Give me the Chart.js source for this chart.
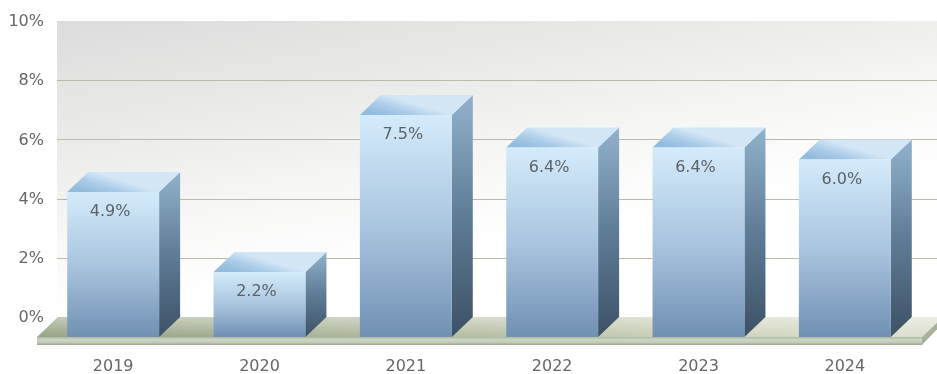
<!DOCTYPE html>
<html>
<head>
<meta charset="utf-8">
<title>Annual growth</title>
<script src="https://cdn.jsdelivr.net/npm/chart.js@4"></script>
<style>
    html, body { margin: 0; padding: 0; background: #fff; }
    canvas { display: block; }
</style>
</head>
<body>
<canvas id="grafico" width="937" height="374"></canvas>
<script>
const years = ['2019', '2020', '2021', '2022', '2023', '2024'];
const growth = [4.9, 2.2, 7.5, 6.4, 6.4, 6.0];
const yTicks = [0, 2, 4, 6, 8, 10];

// how far the back plane sits from the front plane, in px
const depthX = 21;
const depthY = 20;
const unitPx = 29.6;
const depthUnits = depthY / unitPx;
const fontName = '"DejaVu Sans"';

function linear(ctx, x0, y0, x1, y1, stops) {
    const g = ctx.createLinearGradient(x0, y0, x1, y1);
    stops.forEach((c, i) => g.addColorStop(i / (stops.length - 1), c));
    return g;
}

function poly(ctx, pts, fill) {
    ctx.beginPath();
    pts.forEach((p, i) => i ? ctx.lineTo(p[0], p[1]) : ctx.moveTo(p[0], p[1]));
    ctx.closePath();
    ctx.fillStyle = fill;
    ctx.fill();
}

// back wall, grid and floor slab
const stage = {
    id: 'stage',
    // let the y labels hang a few px over the left edge of the plot
    afterLayout(chart) {
        chart.scales.y.right += 4;
    },
    beforeDatasetsDraw(chart) {
        const { ctx, chartArea: a, scales } = chart;
        const wallL = a.left + depthX - 4;
        const wallR = chart.width;
        const top = scales.y.getPixelForValue(10);
        const floorBack = scales.y.getPixelForValue(0);
        ctx.save();
        ctx.fillStyle = linear(ctx, wallL, top, wallL + 50, top + 290, ['#dcdcdc', '#e5e5e4', '#eeeeed', '#f8f8f7', '#ffffff']);
        ctx.fillRect(wallL, top, wallR - wallL, floorBack - top);

        ctx.strokeStyle = '#b9baa9';
        ctx.lineWidth = 1;
        yTicks.slice(1, -1).forEach(v => {
            const y = Math.round(scales.y.getPixelForValue(v)) + 0.5;
            ctx.beginPath();
            ctx.moveTo(wallL, y);
            ctx.lineTo(wallR, y);
            ctx.stroke();
        });

        const floorL = a.left - 3;
        const floorR = a.right + 4;
        const front = a.bottom;
        const shade = linear(ctx, floorL, 0, floorR, 0, ['#95a283', '#a3ad90', '#b5bda2', '#ccd1ba', '#dcdfcd']);
        poly(ctx, [[floorL, front], [floorL + depthX, floorBack], [floorR + depthX, floorBack], [floorR, front]], shade);
        poly(ctx, [[floorL, front], [floorL + depthX, floorBack], [floorR + depthX, floorBack], [floorR, front]],
            linear(ctx, 0, floorBack, 0, front, ['rgba(255,255,255,0.45)', 'rgba(255,255,255,0)']));
        poly(ctx, [[floorL, front], [floorR, front], [floorR, front + 8], [floorL, front + 8]],
            linear(ctx, 0, front, 0, front + 8, ['#aeb9a2', '#ccd4c3', '#c3ccb9', '#98a38e']));
        poly(ctx, [[floorR, front], [floorR + depthX, floorBack], [floorR + depthX, floorBack + 6], [floorR, front + 8]], '#a8b19c');
        ctx.restore();

        // side and top faces of every bar
        chart.getDatasetMeta(0).data.forEach(bar => {
            const l = bar.x - bar.width / 2;
            const r = bar.x + bar.width / 2;
            ctx.save();
            poly(ctx, [[r, bar.y], [r + depthX, bar.y - depthY], [r + depthX, bar.base - depthY], [r, bar.base]],
                linear(ctx, 0, bar.y - depthY, 0, bar.base, ['#92b2cb', '#5f7c96', '#3d5166']));
            poly(ctx, [[l, bar.y], [l + depthX, bar.y - depthY], [r + depthX, bar.y - depthY], [r, bar.y]],
                linear(ctx, l + 20, bar.y, l + 26, bar.y - depthY, ['#93bbde', '#abcce8', '#d2e6f6']));
            ctx.restore();
        });
    }
};

// value printed inside the front face
const valueLabels = {
    id: 'valueLabels',
    afterDatasetsDraw(chart) {
        const { ctx } = chart;
        ctx.save();
        ctx.font = '16px ' + fontName;
        ctx.fillStyle = '#5a6468';
        ctx.textAlign = 'center';
        ctx.textBaseline = 'middle';
        chart.getDatasetMeta(0).data.forEach((bar, i) => {
            ctx.fillText(growth[i].toFixed(1) + '%', bar.x - 3, bar.y + 20);
        });
        ctx.restore();
    }
};

new Chart(document.getElementById('grafico'), {
    type: 'bar',
    data: {
        labels: years,
        datasets: [{
            data: growth,
            yAxisID: 'yFront',
            barPercentage: 0.628,
            categoryPercentage: 1,
            borderWidth: 0,
            backgroundColor(c) {
                const s = c.chart.scales.yFront;
                const y0 = s ? s.getPixelForValue(0) : NaN;
                const y1 = s ? s.getPixelForValue(growth[c.dataIndex]) : NaN;
                if (!isFinite(y0) || !isFinite(y1)) return '#9dbbd8';
                return linear(c.chart.ctx, 0, y1, 0, y0, ['#d4ebfb', '#aac5df', '#7090b3']);
            }
        }]
    },
    options: {
        responsive: false,
        animation: false,
        layout: { padding: { top: 21, right: 19, left: 0, bottom: 0 } },
        plugins: { legend: { display: false }, tooltip: { enabled: false } },
        scales: {
            x: {
                grid: { display: false, drawTicks: false },
                border: { display: false },
                ticks: { color: '#666666', font: { family: fontName, size: 16 }, padding: 20, maxRotation: 0 },
                afterFit(s) { s.height = 37; }
            },
            y: {
                position: 'left',
                min: -depthUnits,
                max: 10,
                grid: { display: false, drawTicks: false },
                border: { display: false },
                afterBuildTicks(s) { s.ticks = yTicks.map(v => ({ value: v })); },
                ticks: { color: '#666666', padding: 0, labelOffset: 1, font: { family: fontName, size: 16 }, callback: v => v + '%' },
                afterFit(s) { s.width = 40; }
            },
            yFront: {
                display: false,
                min: 0,
                max: 10 + depthUnits
            }
        }
    },
    plugins: [stage, valueLabels]
});
</script>
</body>
</html>
